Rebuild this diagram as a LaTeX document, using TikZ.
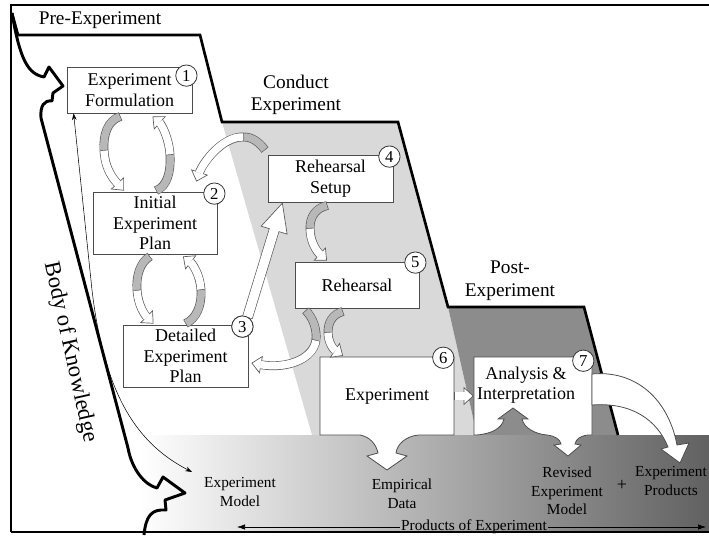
\documentclass[tikz,border=0pt]{standalone}
\usepackage{fontspec}
\setmainfont{Liberation Serif}
\usetikzlibrary{arrows.meta,calc,positioning}
\newcommand{\boxfont}{\fontsize{13.5}{15.5}\selectfont}
\newcommand{\lblfont}{\fontsize{11.5}{14}\selectfont}
\newcommand{\phasefont}{\fontsize{14.5}{17}\selectfont}

\begin{document}
\begin{tikzpicture}[x=0.75pt, y=-0.75pt,
	box/.style={draw=black!70, fill=white, line width=0.6pt, align=center, inner sep=0pt, font=\boxfont},
	plate/.style={draw=black!70, fill=white, line width=0.6pt},
	num/.style={circle, draw=black!80, fill=white, line width=0.6pt, minimum size=16pt, inner sep=0pt, font=\fontsize{12.5}{14}\selectfont},
	lbl/.style={align=center, inner sep=1pt, font=\lblfont},
	phase/.style={align=center, inner sep=0pt, font=\phasefont},
	ribbon/.style={draw=black!65, line width=6.6pt, -{Triangle[length=7.5pt,width=13.5pt,line width=0.5pt,fill=white]},
		postaction={draw=white, line width=5.6pt, -, shorten >=6.8pt, shorten <=0.5pt}},
	twist/.style={draw=black!65, line width=6.6pt, postaction={draw=black!28, line width=5.6pt, shorten <=0.5pt}},
	fatarrow/.style={draw=black!65, line width=8pt, -{Triangle[length=22pt,width=21pt,line width=0.5pt,fill=white]},
		postaction={draw=white, line width=7pt, -, shorten >=21pt, shorten <=0.5pt}},
	know/.style={line width=2.2pt, line join=round},
	thinarrow/.style={line width=0.4pt, {Stealth[length=5pt,width=3.5pt]}-{Stealth[length=5pt,width=3.5pt]}}
	]
	\useasboundingbox (0,0) rectangle (709,535);
	
	\fill[black!15] (222,122) -- (398,122) -- (448,307) -- (477,435) -- (312,435) -- cycle;
	\fill[black!45] (448,307) -- (584,307) -- (618,435) -- (477,435) -- cycle;
	\shade[left color=white, right color=black!62] (140,435) rectangle (709,532);
	
	\draw[line width=1.2pt] (11,532) -- (11,5) -- (709,5);
	\draw[line width=0.8pt] (11,532) -- (709,532);
	\draw[line width=2pt] (12,13) -- (18,35) -- (200,35) -- (222,122) -- (398,122) -- (448,307) -- (584,307) -- (618,435);
	
	\node[phase] (pre) at (100,20) {Pre-Experiment};
	\node[phase] (conduct) at (296,95) {Conduct\\Experiment};
	\node[phase] (post) at (510,281) {Post-\\Experiment};
	\node[font=\fontsize{17}{20}\selectfont, rotate=-77.5] (bok) at (70,352) {Body of Knowledge};
	
	\node[lbl] (em) at (240,492) {Experiment\\Model};
	\node[lbl] (ed) at (402,494) {Empirical\\Data};
	\node[lbl] (rem) at (567,491) {Revised\\Experiment\\Model};
	\node[lbl, font=\boxfont] (plus) at (622,485) {+};
	\node[lbl] (ep) at (671,481) {Experiment\\Products};
	\node[lbl] (prod) at (474,527) {Products of Experiment};
	\coordinate (pl) at (237,527);
	\coordinate (pr) at (706,527);
	\draw[-{Latex[length=6pt,width=4pt]}] (prod.west) -- (pl);
	\draw[-{Latex[length=6pt,width=4pt]}] (prod.east) -- (pr);
	
	\draw[know] (12,13) .. controls (20,60) and (28,74) .. (44,77) -- (49,67) -- (63,86) -- (53,93) -- (52,101)
		.. controls (44,100) and (40,106) .. (41,118) -- (128,448) .. controls (132,470) and (145,485) .. (157,488)
		-- (163,477) -- (185,493) -- (165,500) -- (166,510) .. controls (152,509) and (146,515) .. (144,535);
	
	\node[box, minimum width=93.75pt, minimum height=34.5pt] (b1) at (129.5,90) {Experiment\\Formulation};
	\node[box, minimum width=93pt, minimum height=46.5pt] (b2) at (155,223) {Initial\\Experiment\\Plan};
	\node[box, minimum width=93.75pt, minimum height=46.5pt] (b3) at (185.5,356) {Detailed\\Experiment\\Plan};
	\node[box, minimum width=93.75pt, minimum height=35.25pt] (b4) at (330.5,178.5) {Rehearsal\\Setup};
	\node[box, minimum width=93pt, minimum height=34.5pt] (b5) at (357,285) {Rehearsal};
	
	\coordinate (emtip) at (192,472);
	\draw[thinarrow] ($(b1.south west)+(7,0)$) -- (92,290) .. controls (105,400) and (140,445) .. (emtip);
	
	\draw[plate] (320,357) -- (454,357) -- (454,435) -- (419,435) .. controls (405,436) and (397,445) .. (396,453)
		-- (407,456) -- (387,470) -- (367,456) -- (378,453) .. controls (376,444) and (370,437) .. (360,435) -- (320,435) -- cycle;
	\draw[plate] (474,357) -- (592,357) -- (592,435) -- (588,435) .. controls (580,436) and (576,439) .. (575,444)
		-- (581,445) -- (568,456) -- (554,445) -- (561,444) .. controls (560,439) and (555,436) .. (547,435)
		.. controls (535,434) and (524,428) .. (522,419) -- (528,419) -- (513,408) -- (498,419) -- (504,419)
		.. controls (502,428) and (492,434) .. (476,435) -- (474,435) -- cycle;
	\node[align=center, inner sep=0pt, font=\boxfont, minimum width=100.5pt, minimum height=58.5pt] (b6) at (387,396) {Experiment};
	\node[align=center, inner sep=0pt, font=\boxfont, minimum width=78pt, minimum height=42pt] (b7) at (526,385) {Analysis \&\\Interpretation};
	\draw[plate] (592,374) .. controls (635,370) and (668,398) .. (677,445) -- (689,443) -- (680,463) -- (661,449) -- (668,447)
		.. controls (657,420) and (632,402) .. (592,405) -- cycle;
	
	\draw[twist] ($(b1.south)+(-9,3)$) .. controls +(-13,4) and +(-1,-15) .. (104,150);
	\draw[ribbon] (104,150) .. controls +(1,20) and +(-10,-11) .. ($(b2.north)+(-31,-1)$);
	\draw[twist] ($(b2.north)+(1,-1)$) .. controls +(11,-4) and +(1,17) .. (170,155);
	\draw[ribbon] (170,155) .. controls +(-1,-17) and +(9,8) .. ($(b1.south)+(23,3)$);
	\draw[twist] ($(b2.south)+(-5,2)$) .. controls +(-10,6) and +(-1,-14) .. (137,290);
	\draw[ribbon] (137,290) .. controls +(1,15) and +(-9,-9) .. ($(b3.north)+(-32,-1)$);
	\draw[twist] ($(b3.north)+(0,-1)$) .. controls +(11,-5) and +(1,15) .. (201,290);
	\draw[ribbon] (201,290) .. controls +(-1,-16) and +(9,7) .. ($(b2.south)+(28,2)$);
	
	\coordinate (fb) at (265,150);
	\draw[twist] (fb) .. controls +(-6,-8) and +(8,0) .. (244,137);
	\draw[ribbon] (244,137) .. controls +(-22,-1) and +(6,-18) .. ($(b2.north east)+(-21,-10)$);
	
	\draw[twist] ($(b4.south)+(-3,3)$) .. controls +(-13,3) and +(0,-10) .. (310,228);
	\draw[ribbon] (310,228) .. controls +(0,14) and +(-10,-9) .. ($(b5.north)+(-30,-1)$);
	\draw[twist] ($(b5.south)+(-14,3)$) .. controls +(-11,3) and +(0,-9) .. (328,332);
	\draw[ribbon] (328,332) .. controls +(0,11) and +(-9,-6) .. ($(b6.north)+(-44,-1)$);
	\draw[twist] ($(b5.south west)+(11,2)$) .. controls +(8,8) and +(1,-10) .. (316,340);
	\draw[ribbon] (316,340) .. controls +(-3,20) and +(34,6) .. ($(b3.east)+(3,7)$);
	\draw[ribbon] (b6.east) -- (b6.east -| b7.west);
	
	\node[num] (n3) at ($(b3.north east)+(-6,2)$) {3};
	\draw[fatarrow] ($(n3)+(5,-9)$) -- ($(b4.south west)+(15,0)$);
	\node[num] at (n3) {3};
	
	\node[num] (n1) at ($(b1.north east)+(-6,9)$) {1};
	\node[num] (n2) at ($(b2.north east)+(-3,2)$) {2};
	\node[num] (n4) at ($(b4.north east)+(-4,2)$) {4};
	\node[num] (n5) at ($(b5.north east)+(-4,1)$) {5};
	\node[num] (n6) at ($(b6.north east)+(-11,1)$) {6};
	\node[num] (n7) at ($(b7.north east)+(5,4)$) {7};
\end{tikzpicture}
\end{document}
